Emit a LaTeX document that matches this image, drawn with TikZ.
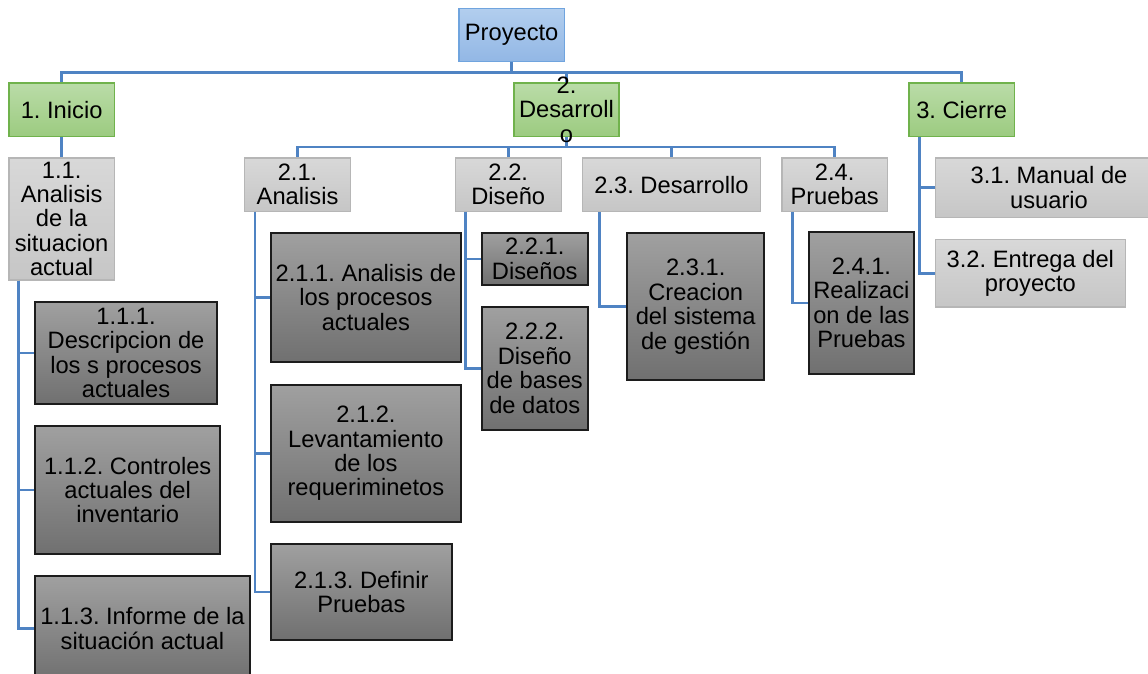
\documentclass[tikz,border=0pt]{standalone}
\usepackage{fontspec}
\setmainfont{Liberation Sans}
\frenchspacing
\definecolor{connblue}{RGB}{79,131,195}
\definecolor{blueT}{RGB}{178,206,238}
\definecolor{blueB}{RGB}{146,183,229}
\definecolor{blueD}{RGB}{112,164,222}
\definecolor{greenT}{RGB}{186,220,168}
\definecolor{greenB}{RGB}{156,203,128}
\definecolor{greenD}{RGB}{112,178,76}
\definecolor{lgT}{RGB}{216,216,216}
\definecolor{lgB}{RGB}{198,198,198}
\definecolor{lgD}{RGB}{182,182,182}
\definecolor{dgT}{RGB}{160,160,160}
\definecolor{dgB}{RGB}{112,112,112}
\definecolor{dgD}{RGB}{28,28,28}
\newcommand\wbsfont{\frenchspacing\fontsize{23.7}{24.4}\selectfont}
\newcommand\wbsnode[7]{\node[#1, anchor=north west, minimum width={#4-#2}, minimum height={#5-#3}] (#6) at (#2,#3) {#7};}
\tikzset{
  wbox/.style={rectangle, inner sep=0pt, align=center, font=\wbsfont, text=black},
  bluebox/.style={wbox, draw=blueD, line width=1.3pt, top color=blueT, bottom color=blueB},
  greenbox/.style={wbox, draw=greenD, line width=1.3pt, top color=greenT, bottom color=greenB},
  lightbox/.style={wbox, draw=lgD, line width=1.3pt, top color=lgT, bottom color=lgB},
  darkbox/.style={wbox, draw=dgD, line width=1.8pt, top color=dgT, bottom color=dgB},
  conn/.style={draw=connblue, line width=2.8pt},
  txt/.style={inner sep=0pt, align=center, font=\wbsfont, text=black}
}
\begin{document}
\begin{tikzpicture}[x=1pt,y=-1pt]
\useasboundingbox (0,0) rectangle (1148,674);
% level 0
\wbsnode{bluebox}{458.3}{7.7}{563.7}{61}{P}{Proyecto}
% level 1
\wbsnode{greenbox}{8.4}{82.3}{113.6}{135.7}{I}{1. Inicio}
\wbsnode{greenbox}{513.3}{82.3}{618.3}{135.7}{D}{}
\wbsnode{greenbox}{908.4}{82.3}{1013.7}{135.7}{C}{3. Cierre}
% level 2
\wbsnode{lightbox}{8.4}{157.3}{113.6}{279.3}{c11}{1.1.\\Analisis\\de la\\situacion\\actual}
\wbsnode{lightbox}{244}{157.3}{349.8}{210.5}{c21}{2.1.\\Analisis}
\wbsnode{lightbox}{454.6}{157.3}{560.6}{210.5}{c22}{2.2.\\Diseño}
\wbsnode{lightbox}{581.7}{157.3}{759.9}{210.7}{c23}{2.3. Desarrollo}
\wbsnode{lightbox}{781.3}{157.3}{886.7}{210.5}{c24}{2.4.\\Pruebas}
\wbsnode{lightbox}{934.7}{157.3}{1162}{216.8}{c31}{3.1. Manual de\\usuario}
\wbsnode{lightbox}{934.7}{239}{1124.7}{306.3}{c32}{3.2. Entrega del\\proyecto}
% level 3
\wbsnode{darkbox}{34.3}{301}{216}{403.3}{c111}{1.1.1.\\Descripcion de\\los s procesos\\actuales}
\wbsnode{darkbox}{34.3}{425}{219.3}{553.3}{c112}{1.1.2. Controles\\actuales del\\inventario}
\wbsnode{darkbox}{34.3}{575.3}{248.7}{680}{c113}{1.1.3. Informe de la\\situación actual}
\wbsnode{darkbox}{270.3}{231.7}{459.7}{361.3}{c211}{2.1.1. Analisis de\\los procesos\\actuales}
\wbsnode{darkbox}{270.3}{383.7}{459.7}{521.3}{c212}{2.1.2.\\Levantamiento\\de los\\requeriminetos}
\wbsnode{darkbox}{270.3}{543}{450.7}{639}{c213}{2.1.3. Definir\\Pruebas}
\wbsnode{darkbox}{481}{231.7}{586.7}{284.3}{c221}{2.2.1.\\Diseños}
\wbsnode{darkbox}{481}{305.7}{586.7}{429.3}{c222}{2.2.2.\\Diseño\\de bases\\de datos}
\wbsnode{darkbox}{626.3}{232.3}{763.3}{379.3}{c231}{2.3.1.\\Creacion\\del sistema\\de gestión}
\wbsnode{darkbox}{807.7}{231.3}{913.3}{372.7}{c241}{2.4.1.\\Realizaci\\on de las\\Pruebas}
% connectors
\draw[conn] (P.south) -- ++(0,10.3) -| (I.north);
\draw[conn] (P.south) -- ++(0,10.3) -| (D.north);
\draw[conn] (P.south) -- ++(0,10.3) -| (C.north);
\draw[conn] (I.south) -- (c11.north);
\draw[conn] (D.south) -- ++(0,10) -| (c21.north);
\draw[conn] (D.south) -- ++(0,10) -| (c22.north);
\draw[conn] (D.south) -- ++(0,10) -| (c23.north);
\draw[conn] (D.south) -- ++(0,10) -| (c24.north);
\draw[conn] ([xshift=9.9pt]c11.south west) |- (c111.west);
\draw[conn] ([xshift=9.9pt]c11.south west) |- (c112.west);
\draw[conn] ([xshift=9.9pt]c11.south west) |- (c113.west);
\draw[conn] ([xshift=11pt]c21.south west) |- (c211.west);
\draw[conn] ([xshift=11pt]c21.south west) |- (c212.west);
\draw[conn] ([xshift=11pt]c21.south west) |- (c213.west);
\draw[conn] ([xshift=11pt]c22.south west) |- (c221.west);
\draw[conn] ([xshift=11pt]c22.south west) |- (c222.west);
\draw[conn] ([xshift=17.8pt]c23.south west) |- (c231.west);
\draw[conn] ([xshift=11pt]c24.south west) |- (c241.west);
\draw[conn] ([xshift=11pt]C.south west) |- (c31.west);
\draw[conn] ([xshift=11pt]C.south west) |- (c32.west);
% overflowing label of 2. Desarrollo
\node[txt] (Dt) at (D.center) {2.\\Desarroll\\o};
\end{tikzpicture}
\end{document}
